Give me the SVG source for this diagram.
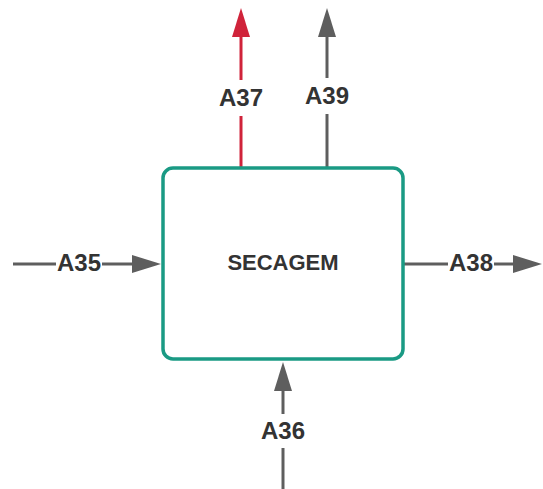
<svg xmlns="http://www.w3.org/2000/svg" width="543" height="489" viewBox="0 0 543 489">
<style>
.ln{stroke:#5e5e5e;stroke-width:3;fill:none}
.red{stroke:#d0233a;stroke-width:3;fill:none}
.lbl{font-family:"Liberation Sans",Arial,sans-serif;font-weight:bold;font-size:24px;fill:#333;text-anchor:middle;dominant-baseline:central}
.box{fill:#fff;stroke:#1a9a84;stroke-width:3.5}
</style>
<g id="connectors">
<g id="c-A37">
<line class="red" x1="241" y1="168" x2="241" y2="116"/>
<line class="red" x1="241" y1="80" x2="241" y2="36"/>
<polygon points="241,8 232,37 250,37" fill="#d0233a"/>
<text class="lbl" x="241" y="97">A37</text>
</g>
<g id="c-A39">
<line class="ln" x1="327" y1="168" x2="327" y2="114"/>
<line class="ln" x1="327" y1="78" x2="327" y2="36"/>
<polygon points="327,8 318,37 336,37" fill="#5e5e5e"/>
<text class="lbl" x="327" y="95">A39</text>
</g>
<g id="c-A35">
<line class="ln" x1="13" y1="264" x2="56" y2="264"/>
<line class="ln" x1="102" y1="264" x2="135" y2="264"/>
<polygon points="161,264 132,255 132,273" fill="#5e5e5e"/>
<text class="lbl" x="79" y="262">A35</text>
</g>
<g id="c-A38">
<line class="ln" x1="404" y1="264" x2="448" y2="264"/>
<line class="ln" x1="494" y1="264" x2="516" y2="264"/>
<polygon points="542,264 513,255 513,273" fill="#5e5e5e"/>
<text class="lbl" x="471" y="262">A38</text>
</g>
<g id="c-A36">
<line class="ln" x1="283" y1="489" x2="283" y2="448"/>
<line class="ln" x1="283" y1="414" x2="283" y2="390"/>
<polygon points="283,362 274,391 292,391" fill="#5e5e5e"/>
<text class="lbl" x="283" y="430">A36</text>
</g>
</g>
<g id="node-secagem">
<rect class="box" x="163" y="168" width="240" height="191" rx="10" ry="10"/>
<text class="lbl" x="283" y="262" style="font-size:22px">SECAGEM</text>
</g>
</svg>
